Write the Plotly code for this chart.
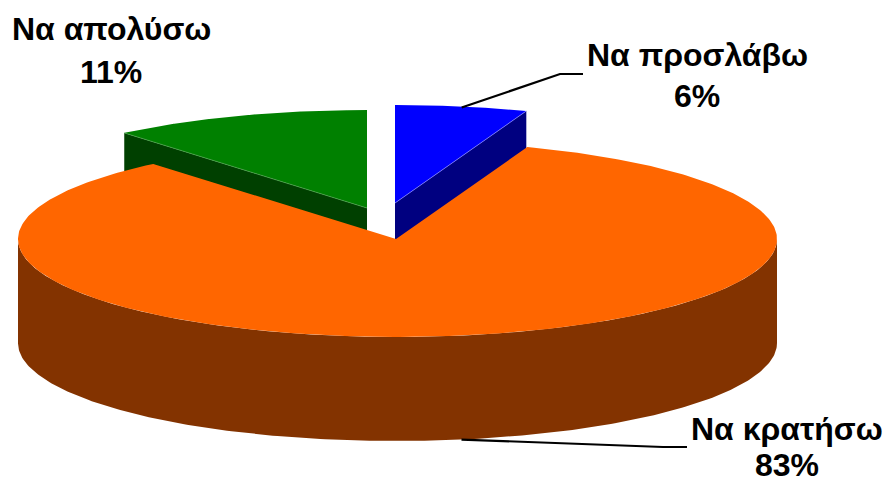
import numpy as np
import plotly.graph_objects as go

categories = ["Να προσλάβω", "Να κρατήσω", "Να απολύσω"]
values = [5.6, 83.3, 11.1]
top_colors = ["#0000FF", "#FF6600", "#008000"]
wall_colors = ["#000080", "#833300", "#004000"]
edge_colors = ["#8C8CFF", None, "#4FA34F"]

# Projection of the tilted pie (screen-pixel axes)
centers = [(395.0, 203.0), (396.0, 239.0), (367.0, 208.0)]
RX_RIGHT, RX_LEFT, RY, DEPTH = 381.0, 378.0, 98.0, 104.0


def project(center, theta):
    s, c = np.sin(theta), np.cos(theta)
    rx = np.where(s > 0, RX_RIGHT, RX_LEFT)
    return center[0] + rx * s, center[1] - RY * c


fig = go.Figure()
total = sum(values)
edges = np.radians(np.concatenate([[0], np.cumsum(values)]) / total * 360)
anchors = []
slices = []
for i in range(len(values)):
    theta = np.linspace(edges[i], edges[i + 1], 400)
    ax, ay = project(centers[i], theta)
    cx, cy = centers[i]
    xs = np.concatenate([[cx], ax, [cx]])
    ys = np.concatenate([[cy], ay, [cy]])
    slices.append((xs, ys))
    anchors.append(project(centers[i], (edges[i] + edges[i + 1]) / 2))

draw_order = [0, 2, 1]
for i in draw_order:
    xs, ys = slices[i]
    keep = np.nonzero(np.diff(xs) < -1e-9)[0]
    a, b = keep.min(), keep.max() + 1
    wx = np.concatenate([xs[a:b + 1], xs[a:b + 1][::-1]])
    wy = np.concatenate([ys[a:b + 1], (ys[a:b + 1] + DEPTH)[::-1]])
    fig.add_trace(go.Scatter(x=wx, y=wy, mode="lines", fill="toself",
                             fillcolor=wall_colors[i], line=dict(width=0),
                             hoverinfo="skip"))
    fig.add_trace(go.Scatter(x=xs, y=ys, mode="lines", fill="toself",
                             fillcolor=top_colors[i], line=dict(width=0),
                             hoverinfo="skip"))
    if edge_colors[i]:
        fig.add_trace(go.Scatter(x=xs[a:b + 1], y=ys[a:b + 1], mode="lines",
                                 line=dict(color=edge_colors[i], width=0.7),
                                 hoverinfo="skip"))

# Leader lines from slice rims to their labels
ax0, ay0 = anchors[0]
fig.add_trace(go.Scatter(x=[float(ax0), 560, 583], y=[float(ay0) + 1, 74, 74], mode="lines",
                         line=dict(color="black", width=2.2), hoverinfo="skip"))
ax1, ay1 = anchors[1]
fig.add_trace(go.Scatter(x=[float(ax1), 663, 687], y=[float(ay1) + DEPTH, 447, 447], mode="lines",
                         line=dict(color="black", width=2.2), hoverinfo="skip"))

label_pos = [(697, 55, 96), (787, 429, 465), (111, 29, 72)]
font = dict(family="Liberation Sans", size=32, color="black", weight=700)
for name, val, (x, y1, y2) in zip(categories, values, label_pos):
    fig.add_annotation(x=x, y=y1, text=name, showarrow=False, font=font,
                       xanchor="center", yanchor="middle")
    fig.add_annotation(x=x, y=y2, text=f"{round(val)}%", showarrow=False, font=font,
                       xanchor="center", yanchor="middle")

fig.update_layout(
    width=885, height=479, autosize=False,
    margin=dict(l=0, r=0, t=0, b=0),
    paper_bgcolor="white", plot_bgcolor="white", showlegend=False,
    xaxis=dict(range=[0, 885], visible=False, fixedrange=True),
    yaxis=dict(range=[479, 0], visible=False, fixedrange=True),
)
fig.write_html("out.html", config={"displayModeBar": False},
               post_script="document.body.style.margin='0';")
